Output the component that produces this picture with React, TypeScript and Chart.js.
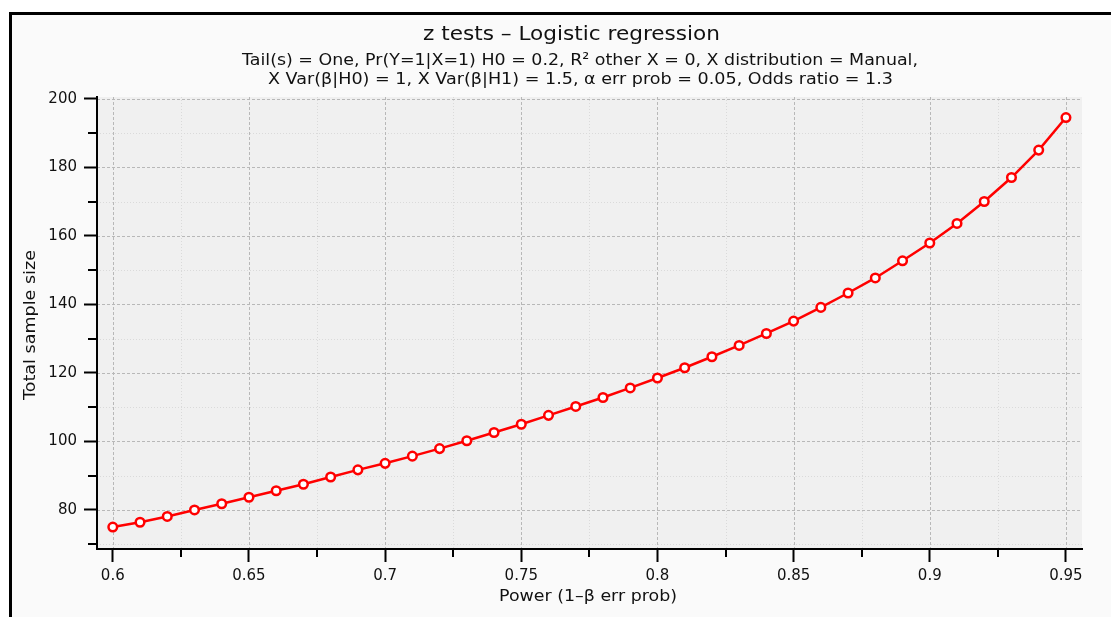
import React, { useEffect, useRef } from "react";
import { Chart, registerables } from "chart.js";

Chart.register(...registerables);

const powerValues = [
  0.6, 0.61, 0.62, 0.63, 0.64, 0.65, 0.66, 0.67, 0.68, 0.69, 0.7, 0.71, 0.72,
  0.73, 0.74, 0.75, 0.76, 0.77, 0.78, 0.79, 0.8, 0.81, 0.82, 0.83, 0.84, 0.85,
  0.86, 0.87, 0.88, 0.89, 0.9, 0.91, 0.92, 0.93, 0.94, 0.95,
];
const sampleSizes = [
  75, 76.4, 78.1, 80, 81.8, 83.7, 85.6, 87.5, 89.6, 91.7, 93.6, 95.7, 97.9,
  100.2, 102.6, 105, 107.6, 110.2, 112.8, 115.6, 118.5, 121.5, 124.7, 128,
  131.5, 135.1, 139.1, 143.3, 147.7, 152.7, 157.9, 163.6, 170, 177, 185, 194.5,
];
const xMajorTicks = [0.6, 0.65, 0.7, 0.75, 0.8, 0.85, 0.9, 0.95];
const xMinorTicks = [0.625, 0.675, 0.725, 0.775, 0.825, 0.875, 0.925];
const yMajorTicks = [80, 100, 120, 140, 160, 180, 200];
const yMinorTicks = [70, 90, 110, 130, 150, 170, 190];

const titleText = "z tests – Logistic regression";
const subtitleLines = [
  "Tail(s) = One, Pr(Y=1|X=1) H0 = 0.2, R² other X = 0, X distribution = Manual,",
  "X Var(β|H0) = 1, X Var(β|H1) = 1.5, α err prob = 0.05, Odds ratio = 1.3",
];
const xAxisTitle = "Power (1–β err prob)";
const yAxisTitle = "Total sample size";

const FONT = "'DejaVu Sans', sans-serif";
const TEXT = "#111111";

function fitText(ctx: any, text: string, x: number, y: number, size: number, targetW: number) {
  ctx.font = `${size}px ${FONT}`;
  const w = ctx.measureText(text).width;
  const sx = w > 0 ? targetW / w : 1;
  ctx.save();
  ctx.translate(x, y);
  ctx.scale(sx, 1);
  ctx.fillText(text, 0, 0);
  ctx.restore();
}

const chromePlugin = {
  id: "chrome",
  beforeDraw(chart: any) {
    const { ctx, chartArea: a, scales } = chart;
    const xs = scales.x;
    const ys = scales.y;
    ctx.save();
    ctx.fillStyle = "#f0f0f0";
    ctx.fillRect(a.left, a.top, a.right - a.left, a.bottom - a.top);
    ctx.lineWidth = 1;
    ctx.strokeStyle = "#dadada";
    ctx.setLineDash([1, 2]);
    for (const v of xMinorTicks) {
      const px = Math.round(xs.getPixelForValue(v)) + 0.5;
      ctx.beginPath();
      ctx.moveTo(px, a.top);
      ctx.lineTo(px, a.bottom);
      ctx.stroke();
    }
    for (const v of yMinorTicks) {
      const py = Math.round(ys.getPixelForValue(v)) + 0.5;
      ctx.beginPath();
      ctx.moveTo(a.left, py);
      ctx.lineTo(a.right, py);
      ctx.stroke();
    }
    ctx.strokeStyle = "#b8b8b8";
    ctx.setLineDash([3, 2]);
    for (const v of xMajorTicks) {
      const px = Math.round(xs.getPixelForValue(v)) + 0.5;
      ctx.beginPath();
      ctx.moveTo(px, a.top);
      ctx.lineTo(px, a.bottom);
      ctx.stroke();
    }
    for (const v of yMajorTicks) {
      const py = Math.round(ys.getPixelForValue(v)) + 0.5;
      ctx.beginPath();
      ctx.moveTo(a.left, py);
      ctx.lineTo(a.right, py);
      ctx.stroke();
    }
    ctx.restore();
  },
  afterDraw(chart: any) {
    const { ctx, chartArea: a, scales } = chart;
    const xs = scales.x;
    const ys = scales.y;
    ctx.save();
    ctx.strokeStyle = "#000";
    ctx.lineWidth = 2;
    for (const v of xMinorTicks) {
      const px = Math.round(xs.getPixelForValue(v));
      ctx.beginPath();
      ctx.moveTo(px, a.bottom);
      ctx.lineTo(px, a.bottom + 8);
      ctx.stroke();
    }
    for (const v of yMinorTicks) {
      const py = Math.round(ys.getPixelForValue(v));
      ctx.beginPath();
      ctx.moveTo(a.left, py);
      ctx.lineTo(a.left - 9, py);
      ctx.stroke();
    }
    ctx.fillStyle = TEXT;
    ctx.textAlign = "center";
    ctx.textBaseline = "middle";
    fitText(ctx, titleText, 571.5, 35, 20, 297);
    fitText(ctx, subtitleLines[0], 580, 61, 16.5, 676);
    fitText(ctx, subtitleLines[1], 580.5, 80, 16.5, 625);
    fitText(ctx, xAxisTitle, 588, 597, 16.5, 178);
    ctx.save();
    ctx.translate(31, 325);
    ctx.rotate(-Math.PI / 2);
    fitText(ctx, yAxisTitle, 0, 0, 16.5, 150);
    ctx.restore();
    ctx.restore();
  },
};

export default function App() {
  const ref = useRef<HTMLCanvasElement | null>(null);
  useEffect(() => {
    if (!ref.current) return;
    const chart = new Chart(ref.current, {
      type: "line",
      data: {
        datasets: [
          {
            data: powerValues.map((p, i) => ({ x: p, y: sampleSizes[i] })),
            borderColor: "#ff0000",
            borderWidth: 2.5,
            backgroundColor: "#ffffff",
            pointBackgroundColor: "#ffffff",
            pointBorderColor: "#ff0000",
            pointBorderWidth: 2.5,
            pointRadius: 4.3,
            tension: 0,
          },
        ],
      },
      options: {
        animation: false,
        responsive: false,
        layout: { padding: { left: 0, right: 29, top: 97, bottom: 0 } },
        plugins: {
          legend: { display: false },
          title: { display: false },
          tooltip: { enabled: false },
        },
        scales: {
          x: {
            type: "linear",
            min: 0.5942,
            max: 0.9559,
            afterBuildTicks: (s: any) => {
              s.ticks = xMajorTicks.map((v) => ({ value: v }));
            },
            afterFit: (s: any) => {
              s.height = 68;
            },
            grid: {
              drawOnChartArea: false,
              drawTicks: true,
              tickLength: 13,
              tickWidth: 2,
              tickColor: "#000",
            },
            border: { display: true, color: "#000", width: 2 },
            ticks: {
              autoSkip: false,
              maxRotation: 0,
              padding: 5,
              color: TEXT,
              font: { family: FONT, size: 15 },
              callback: (v: any) => String(Number(v)),
            },
          },
          y: {
            type: "linear",
            min: 68.6,
            max: 200.5,
            afterBuildTicks: (s: any) => {
              s.ticks = yMajorTicks.map((v) => ({ value: v }));
            },
            afterFit: (s: any) => {
              s.width = 97;
            },
            grid: {
              drawOnChartArea: false,
              drawTicks: true,
              tickLength: 13,
              tickWidth: 2,
              tickColor: "#000",
            },
            border: { display: true, color: "#000", width: 2 },
            ticks: {
              autoSkip: false,
              padding: 7,
              color: TEXT,
              font: { family: FONT, size: 15 },
              callback: (v: any) => String(Number(v)),
            },
          },
        },
      },
      plugins: [chromePlugin],
    });
    return () => chart.destroy();
  }, []);

  return (
    <div
      style={{
        position: "absolute",
        left: 0,
        top: 0,
        width: 1111,
        height: 617,
        background: "#ffffff",
        overflow: "hidden",
      }}
    >
      <div
        style={{
          position: "absolute",
          left: 9,
          top: 12,
          right: 0,
          bottom: 0,
          borderTop: "3px solid #000",
          borderLeft: "3px solid #000",
          background: "#fafafa",
        }}
      />
      <canvas
        ref={ref}
        width={1111}
        height={617}
        style={{ position: "absolute", left: 0, top: 0, width: 1111, height: 617 }}
      />
    </div>
  );
}
